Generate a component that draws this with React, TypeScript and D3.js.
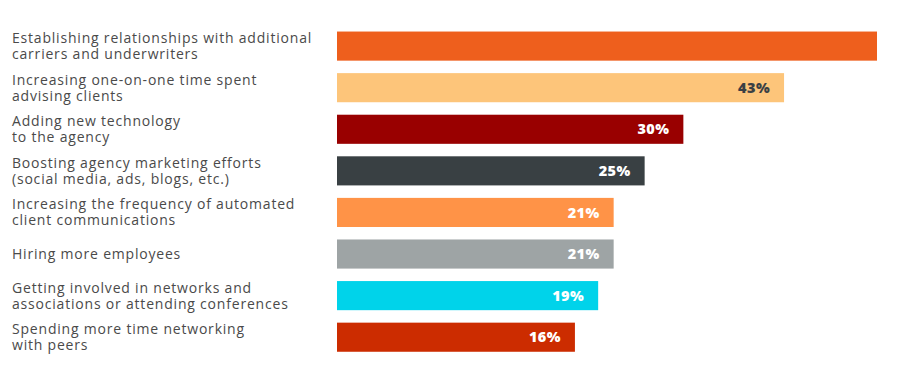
import React from "react";
import * as d3 from "d3";

const categories: string[][] = [
  ["Establishing relationships with additional", "carriers and underwriters"],
  ["Increasing one-on-one time spent", "advising clients"],
  ["Adding new technology", "to the agency"],
  ["Boosting agency marketing efforts", "(social media, ads, blogs, etc.)"],
  ["Increasing the frequency of automated", "client communications"],
  ["Hiring more employees"],
  ["Getting involved in networks and", "associations or attending conferences"],
  ["Spending more time networking", "with peers"],
];
const values: number[] = [55, 43, 30, 25, 21, 21, 19, 16];
const showLabel: boolean[] = [false, true, true, true, true, true, true, true];
const colors: string[] = ["#EE5F1D", "#FDC57A", "#990000", "#394043", "#FF9347", "#9EA4A5", "#00D3EA", "#CC2C00"];
const labelColors: string[] = ["#ffffff", "#3a4044", "#ffffff", "#ffffff", "#ffffff", "#ffffff", "#ffffff", "#ffffff"];

export default function App() {
  const W = 920, H = 383;
  const barX0 = 337;
  const x = d3.scaleLinear().domain([0, 55]).range([451, 877]);
  const y = d3.scaleBand<number>().domain(d3.range(values.length)).range([25.3, 358]).paddingInner(0.3).paddingOuter(0.15);
  const font = "'Open Sans', sans-serif";
  return (
    <svg width={W} height={H} style={{ position: "absolute", left: 0, top: 0 }}>
      <rect width={W} height={H} fill="#fff" />
      {values.map((v, i) => {
        const yy = y(i)!;
        const bh = y.bandwidth();
        const cy = yy + bh / 2;
        const lines = categories[i];
        const lh = 16;
        const startY = cy - ((lines.length - 1) * lh) / 2;
        return (
          <g key={i}>
            <rect x={barX0} y={yy} width={x(v) - barX0} height={bh} fill={colors[i]} />
            {showLabel[i] && (
              <text x={x(v) - 14} y={cy} dy="0.36em" textAnchor="end" fontFamily={font} fontWeight={800} fontSize={14.5} letterSpacing={0.4} fill={labelColors[i]}>
                {v}%
              </text>
            )}
            <text fontFamily={font} fontSize={14} letterSpacing={0.8} fill="#4a4a4a">
              {lines.map((l, j) => (
                <tspan key={j} x={12} y={startY + j * lh} dy="0.36em">{l}</tspan>
              ))}
            </text>
          </g>
        );
      })}
    </svg>
  );
}
